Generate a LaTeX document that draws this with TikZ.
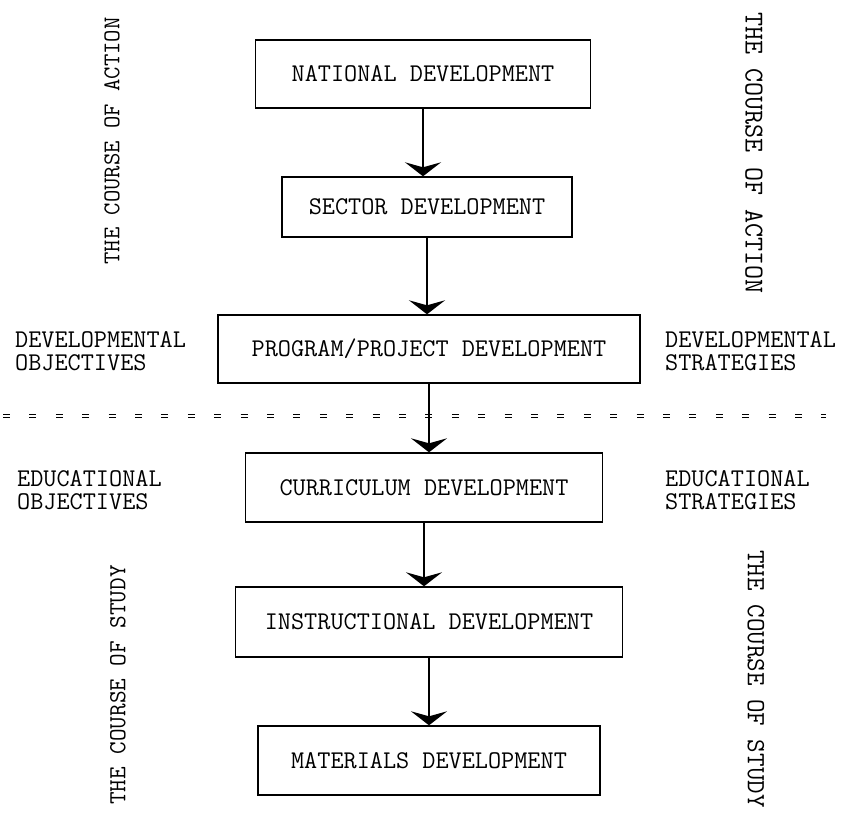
\documentclass[tikz,border=0pt]{standalone}
\usepackage{fontspec}
\usetikzlibrary{arrows.meta}
\begin{document}
\begin{tikzpicture}[x=1pt,y=-1pt,
  typo/.style={font=\ttfamily\fontsize{25.5}{23}\selectfont\addfontfeature{FakeBold=1}},
  stage/.style={draw, line width=1.4pt, inner sep=0pt, typo},
  flow/.style={line width=2pt, -{Stealth[width=36pt,length=14pt,inset=5pt]}},
  sidenote/.style={typo, align=left, inner sep=0pt, anchor=west},
  course/.style={inner sep=0pt, font=\ttfamily\fontsize{#1}{#1}\selectfont\addfontfeature{FakeBold=1}},
  divider/.style={double, double distance=1.4pt, line width=1pt, dash pattern=on 7pt off 19.4pt}
]
\useasboundingbox (0,0) rectangle (867,820);

% the six development stages
\node[stage, minimum width=335pt, minimum height=68pt] (nat) at (423,74)  {NATIONAL DEVELOPMENT};
\node[stage, minimum width=290pt, minimum height=60pt] (sec) at (427,207) {SECTOR DEVELOPMENT};
\node[stage, minimum width=422pt, minimum height=68pt] (pro) at (429,349) {PROGRAM/PROJECT DEVELOPMENT};
\node[stage, minimum width=357pt, minimum height=69pt] (cur) at (424,487.5) {CURRICULUM DEVELOPMENT};
\node[stage, minimum width=387pt, minimum height=70pt] (ins) at (429,622) {INSTRUCTIONAL DEVELOPMENT};
\node[stage, minimum width=342pt, minimum height=69pt] (mat) at (429,760.5) {MATERIALS DEVELOPMENT};

% objectives and strategies beside the stages
\node[sidenote] (devobj) at (15,351)  {DEVELOPMENTAL\\OBJECTIVES};
\node[sidenote] (devstr) at (665,351) {DEVELOPMENTAL\\STRATEGIES};
\node[sidenote] (eduobj) at (17,490)  {EDUCATIONAL\\OBJECTIVES};
\node[sidenote] (edustr) at (665,490) {EDUCATIONAL\\STRATEGIES};

% the two courses, written up the left side and down the right side
\node[course=24, rotate=90]  (actl) at (112,141) {THE COURSE OF ACTION};
\node[course=24.5, rotate=90]  (stul) at (118,685) {THE COURSE OF STUDY};
\node[course=27.3, rotate=-90] (actr) at (754,153) {THE COURSE OF ACTION};
\node[course=26.3, rotate=-90] (stur) at (756,679) {THE COURSE OF STUDY};

% boundary between development planning and education
\coordinate (dl) at (3,416);
\coordinate (dr) at (826,416);
\draw[divider] (dl) -- (dr);

% flow from stage to stage
\draw[flow] (nat.south) -- (nat.south |- sec.north);
\draw[flow] (sec.south) -- (sec.south |- pro.north);
\draw[flow] (pro.south) -- (pro.south |- cur.north);
\draw[flow] (cur.south) -- (cur.south |- ins.north);
\draw[flow] (ins.south) -- (ins.south |- mat.north);
\end{tikzpicture}
\end{document}
